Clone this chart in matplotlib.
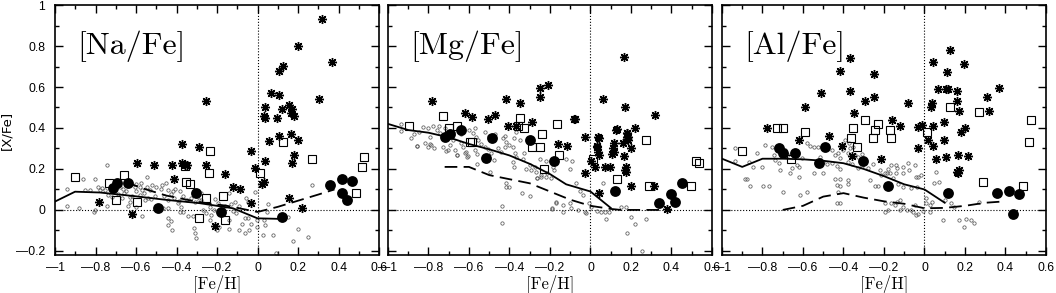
"""
[Na/Fe], [Mg/Fe], [Al/Fe] versus [Fe/H] - three panel abundance plot.
"""

import matplotlib
matplotlib.use("Agg")
import matplotlib.pyplot as plt

# ---------------------------------------------------------------- data
# [Na/Fe] panel
na_small_x = [-0.943, -0.943, -0.86, -0.803, -0.882, -0.745, -0.787, -0.77, -0.754, -0.803,
              -0.745, -0.737, -0.72, -0.68, -0.663, -0.647, -0.63, -0.63, -0.639, -0.606,
              -0.581, -0.57, -0.548, -0.532, -0.548, -0.598, -0.57, -0.614, -0.557, -0.524,
              -0.507, -0.478, -0.442, -0.425, -0.417, -0.466, -0.442, -0.442, -0.425, -0.442,
              -0.422, -0.392, -0.376, -0.368, -0.384, -0.406, -0.384, -0.343, -0.319, -0.314,
              -0.31, -0.302, -0.278, -0.278, -0.269, -0.253, -0.236, -0.215, -0.228, -0.236,
              -0.209, -0.195, -0.179, -0.192, -0.199, -0.852, -0.828, -0.778, -0.808, -0.69,
              -0.67, -0.66, -0.62, -0.6, -0.58, -0.56, -0.54, -0.6, -0.575, -0.52,
              -0.5, -0.46, -0.44, -0.41, -0.39, -0.37, -0.35, -0.33, -0.31, -0.29,
              -0.47, -0.45, -0.143, -0.11, -0.105, -0.056, -0.048, -0.061, -0.048, -0.077,
              -0.034, -0.064, -0.04, -0.093, -0.143, -0.143, -0.012, -0.002, -0.002, 0.051,
              0.048, 0.031, 0.037, 0.028, 0.075, 0.149, 0.198, 0.177, 0.248, 0.267,
              0.092, -0.16, -0.13, -0.12, -0.09]
na_small_y = [0.101, 0.019, 0.151, 0.151, 0.008, 0.22, 0.111, 0.106, 0.098, 0.0,
              0.019, 0.073, 0.065, 0.114, 0.101, 0.094, 0.065, 0.041, 0.019, 0.114,
              0.111, 0.098, 0.111, 0.098, 0.159, 0.016, -0.029, -0.024, 0.049, 0.052,
              0.068, 0.101, 0.098, 0.078, 0.09, 0.008, 0.008, -0.04, -0.052, -0.073,
              -0.1, 0.033, 0.013, -0.008, -0.008, 0.101, 0.09, -0.029, -0.032, -0.089,
              -0.113, -0.138, 0.081, 0.049, 0.0, -0.016, 0.016, 0.0, -0.024, -0.049,
              0.052, 0.036, 0.0, -0.081, -0.1, 0.098, 0.098, 0.098, -0.01, 0.08,
              0.06, 0.085, 0.07, 0.09, 0.075, 0.085, 0.06, 0.125, 0.13, 0.12,
              0.11, 0.07, 0.05, 0.06, 0.045, 0.07, 0.05, 0.06, 0.04, 0.05,
              0.12, 0.13, 0.081, 0.041, -0.016, 0.057, 0.041, -0.041, -0.041, -0.068,
              -0.068, -0.113, -0.097, -0.097, -0.091, -0.049, 0.089, -0.081, -0.049, 0.029,
              -0.008, -0.049, -0.073, -0.122, -0.122, -0.036, -0.093, -0.15, -0.134, 0.122,
              -0.211, 0.02, 0.03, -0.005, 0.02]
na_sq_x = [-0.901, -0.734, -0.66, -0.701, -0.593, -0.355, -0.333, -0.356, -0.236, -0.241,
           -0.253, -0.171, -0.291, -0.159, 0.01, 0.128, 0.267, 0.486, 0.527, 0.516]
na_sq_y = [0.159, 0.13, 0.169, 0.049, 0.039, 0.138, 0.128, 0.215, 0.289, 0.179,
           0.057, 0.068, -0.041, -0.049, 0.179, 0.33, 0.249, 0.081, 0.26, 0.211]
na_star_x = [0.319, 0.199, 0.368, 0.128, 0.108, -0.253, 0.067, 0.108, 0.305, 0.038,
             0.031, 0.038, 0.097, 0.12, 0.158, 0.169, 0.163, 0.179, 0.059, 0.108,
             0.167, 0.199, -0.371, -0.291, -0.031, 0.179, 0.169, 0.038, -0.01, -0.593,
             -0.512, -0.422, -0.373, -0.36, -0.348, -0.253, -0.161, -0.414, -0.122, -0.084,
             0.034, 0.021, -0.783, -0.622, -0.212, -0.031, 0.158, 0.218]
na_star_y = [0.932, 0.801, 0.72, 0.702, 0.68, 0.532, 0.572, 0.561, 0.541, 0.501,
             0.46, 0.45, 0.45, 0.491, 0.512, 0.491, 0.472, 0.46, 0.338, 0.361,
             0.371, 0.341, 0.322, 0.309, 0.289, 0.268, 0.231, 0.241, 0.203, 0.231,
             0.22, 0.22, 0.231, 0.22, 0.22, 0.22, 0.174, 0.151, 0.114, 0.101,
             0.138, 0.127, 0.041, -0.019, -0.078, 0.033, 0.06, 0.008]
na_dot_x = [-0.716, -0.695, -0.642, -0.489, -0.302, -0.182, 0.122, 0.358, 0.415, 0.465,
            0.415, 0.44]
na_dot_y = [0.109, 0.13, 0.13, 0.008, 0.081, -0.008, -0.033, 0.122, 0.151, 0.141,
            0.081, 0.049]
na_solid_x = [-1.0, -0.901, -0.778, -0.614, -0.45, -0.286, -0.121, 0.0, 0.121]
na_solid_y = [0.041, 0.089, 0.085, 0.068, 0.049, 0.033, 0.008, -0.041, -0.044]
na_dash_x = [-0.65, -0.55, -0.45, -0.3, -0.15, 0.0, 0.1, 0.2, 0.3, 0.38]
na_dash_y = [0.135, 0.1, 0.07, 0.04, 0.02, -0.01, 0.015, 0.045, 0.075, 0.1]

# [Mg/Fe] panel
mg_small_x = [-0.938, -0.938, -0.888, -0.855, -0.872, -0.849, -0.827, -0.803, -0.778, -0.794,
              -0.786, -0.773, -0.76, -0.745, -0.729, -0.696, -0.712, -0.679, -0.671, -0.658,
              -0.641, -0.63, -0.613, -0.609, -0.581, -0.564, -0.556, -0.539, -0.572, -0.559,
              -0.523, -0.507, -0.49, -0.477, -0.457, -0.441, -0.421, -0.403, -0.383, -0.433,
              -0.416, -0.375, -0.367, -0.383, -0.378, -0.498, -0.436, -0.436, -0.416, -0.416,
              -0.4, -0.334, -0.326, -0.301, -0.317, -0.293, -0.337, -0.298, -0.276, -0.268,
              -0.263, -0.243, -0.219, -0.194, -0.178, -0.186, -0.189, -0.169, -0.816, -0.803,
              -0.859, -0.793, -0.703, -0.66, -0.62, -0.604, -0.562, -0.266, -0.242, -0.217,
              -0.191, -0.168, -0.135, -0.135, -0.102, -0.094, -0.069, -0.053, -0.036, -0.061,
              -0.028, -0.02, -0.007, 0.005, 0.03, 0.05, 0.071, 0.092, 0.079, 0.063,
              0.153, 0.177, 0.202, 0.218, 0.272, 0.18, 0.254, -0.75, -0.72, -0.68,
              -0.64, -0.6, -0.57, -0.52, -0.5, -0.47, -0.42, -0.38, -0.37, -0.35,
              -0.12, -0.1, -0.09, -0.25, -0.22]
mg_small_y = [0.42, 0.387, 0.35, 0.312, 0.371, 0.382, 0.406, 0.4, 0.41, 0.358,
              0.317, 0.301, 0.39, 0.375, 0.309, 0.317, 0.29, 0.341, 0.293, 0.268,
              0.325, 0.306, 0.285, 0.26, 0.377, 0.358, 0.341, 0.322, 0.293, 0.273,
              0.306, 0.296, 0.28, 0.244, 0.301, 0.285, 0.309, 0.317, 0.306, 0.35,
              0.333, 0.277, 0.257, 0.236, 0.211, 0.187, 0.02, -0.062, 0.13, 0.11,
              0.11, 0.247, 0.276, 0.22, 0.2, 0.195, 0.081, 0.068, 0.211, 0.187,
              0.154, 0.171, 0.163, 0.154, 0.195, 0.208, 0.008, 0.036, 0.328, 0.306,
              0.314, 0.32, 0.293, 0.268, 0.276, 0.263, 0.224, 0.154, 0.163, 0.179,
              0.004, 0.037, 0.022, -0.009, 0.035, 0.008, 0.132, 0.091, 0.075, 0.0,
              -0.008, -0.016, 0.033, 0.016, -0.004, -0.008, -0.008, -0.008, -0.044, 0.132,
              0.016, 0.016, -0.033, -0.07, -0.044, -0.114, -0.2, 0.41, 0.4, 0.38,
              0.37, 0.39, 0.4, 0.38, 0.36, 0.37, 0.36, 0.35, 0.38, 0.34,
              0.25, 0.2, 0.24, 0.25, 0.24]
mg_sq_x = [-0.898, -0.729, -0.699, -0.658, -0.586, -0.595, -0.347, -0.359, -0.329, -0.238,
           -0.289, -0.248, -0.166, -0.227, -0.156, 0.013, 0.273, 0.133, 0.289, 0.523,
           0.534, 0.495]
mg_sq_y = [0.411, 0.46, 0.402, 0.411, 0.332, 0.333, 0.45, 0.411, 0.4, 0.371,
           0.309, 0.309, 0.42, 0.2, 0.268, 0.249, 0.341, 0.149, 0.119, 0.24,
           0.229, 0.119]
mg_star_x = [-0.781, -0.62, -0.587, -0.508, -0.469, -0.419, -0.349, -0.406, -0.37, -0.288,
             -0.25, -0.25, -0.209, -0.077, -0.16, -0.118, -0.028, 0.038, 0.03, 0.062,
             0.164, 0.173, 0.128, 0.178, 0.186, 0.186, 0.222, 0.321, 0.117, 0.161,
             0.202, -0.081, 0.133, 0.182, 0.182, 0.182, 0.042, 0.03, 0.037, 0.042,
             0.11, 0.115, 0.105, 0.164, 0.021, 0.071, 0.095, 0.174, 0.169, 0.174,
             0.002, -0.028, 0.202, 0.312, 0.042, 0.38]
mg_star_y = [0.533, 0.472, 0.452, 0.444, 0.463, 0.541, 0.52, 0.41, 0.41, 0.431,
             0.593, 0.553, 0.61, 0.444, 0.322, 0.312, 0.354, 0.354, 0.314, 0.541,
             0.745, 0.501, 0.39, 0.374, 0.358, 0.341, 0.402, 0.463, 0.325, 0.325,
             0.3, 0.442, 0.394, 0.374, 0.358, 0.345, 0.35, 0.309, 0.284, 0.268,
             0.3, 0.285, 0.275, 0.263, 0.208, 0.208, 0.208, 0.211, 0.195, 0.184,
             0.241, 0.179, 0.119, 0.119, 0.081, 0.003]
mg_dot_x = [-0.717, -0.696, -0.638, -0.487, -0.518, -0.298, -0.178, 0.123, 0.339, 0.398,
            0.418, 0.451]
mg_dot_y = [0.358, 0.371, 0.39, 0.35, 0.252, 0.341, 0.241, 0.091, 0.032, 0.078,
            0.041, 0.13]
mg_solid_x = [-1.0, -0.9, -0.8, -0.7, -0.6, -0.5, -0.4, -0.3, -0.2, -0.12, 0.0, 0.1]
mg_solid_y = [0.42, 0.39, 0.377, 0.354, 0.322, 0.296, 0.266, 0.225, 0.175, 0.125, 0.09, 0.01]
mg_dash_x = [-0.72, -0.6, -0.5, -0.4, -0.3, -0.2, -0.1, 0.0, 0.1, 0.15, 0.4]
mg_dash_y = [0.21, 0.21, 0.17, 0.15, 0.13, 0.09, 0.05, 0.02, 0.005, 0.0, 0.0]

# [Al/Fe] panel
al_small_x = [-0.938, -0.938, -0.888, -0.877, -0.86, -0.869, -0.849, -0.828, -0.803, -0.795,
              -0.787, -0.77, -0.754, -0.745, -0.737, -0.72, -0.713, -0.7, -0.688, -0.672,
              -0.655, -0.663, -0.63, -0.619, -0.622, -0.606, -0.614, -0.581, -0.581, -0.565,
              -0.548, -0.524, -0.548, -0.516, -0.5, -0.483, -0.5, -0.458, -0.442, -0.425,
              -0.417, -0.458, -0.433, -0.417, -0.442, -0.417, -0.433, -0.417, -0.429, -0.401,
              -0.379, -0.368, -0.379, -0.36, -0.343, -0.327, -0.31, -0.327, -0.31, -0.379,
              -0.376, -0.278, -0.269, -0.253, -0.245, -0.228, -0.22, -0.195, -0.179, -0.433,
              -0.417, -0.195, -0.213, -0.187, -0.163, -0.138, -0.105, -0.082, -0.046, -0.032,
              -0.016, 0.057, 0.074, -0.163, -0.138, -0.105, -0.087, -0.057, -0.045, -0.032,
              -0.008, 0.008, 0.025, 0.038, 0.09, 0.099, 0.172, 0.197, 0.205, 0.23,
              0.246, 0.271, -0.14, -0.172, -0.14, -0.107, -0.156, -0.131, -0.107, -0.074,
              -0.041, -0.036, -0.066, -0.123, -0.148, -0.123, -0.066, -0.041, 0.008, 0.025,
              -0.181, -0.197, 0.049, 0.131, 0.148, -0.392, -0.371, -0.351]
al_small_y = [0.301, 0.24, 0.149, 0.149, 0.118, 0.236, 0.211, 0.276, 0.208, 0.118,
              0.317, 0.118, 0.309, 0.268, 0.244, 0.227, 0.195, 0.089, 0.292, 0.268,
              0.203, 0.179, 0.219, 0.208, 0.162, 0.252, 0.073, 0.089, 0.325, 0.312,
              0.305, 0.309, 0.179, 0.257, 0.235, 0.224, 0.179, 0.292, 0.268, 0.276,
              0.252, 0.23, 0.214, 0.198, 0.149, 0.149, 0.122, 0.118, 0.089, 0.292,
              0.279, 0.3, 0.236, 0.224, 0.268, 0.257, 0.271, 0.203, 0.214, 0.146,
              0.127, 0.203, 0.146, 0.224, 0.118, 0.118, 0.195, 0.179, 0.198, 0.035,
              0.035, -0.012, 0.171, 0.179, 0.22, 0.203, 0.211, 0.228, 0.22, 0.163,
              0.171, 0.187, 0.138, 0.033, 0.041, 0.013, 0.0, -0.008, 0.024, -0.02,
              -0.003, 0.057, 0.024, 0.041, -0.049, 0.049, -0.049, -0.085, -0.046, -0.049,
              -0.062, 0.039, 0.22, 0.179, 0.182, 0.179, 0.154, 0.127, 0.114, 0.195,
              0.163, 0.114, 0.106, 0.049, 0.024, 0.0, 0.0, -0.024, 0.033, -0.008,
              0.0, 0.033, 0.132, 0.033, 0.012, 0.341, 0.328, 0.309]
al_sq_x = [-0.903, -0.73, -0.701, -0.588, -0.66, -0.353, -0.361, -0.333, -0.292, -0.23,
           -0.243, -0.254, -0.172, -0.163, 0.012, 0.127, 0.268, 0.527, 0.517, 0.288,
           0.488]
al_sq_y = [0.289, 0.4, 0.4, 0.38, 0.249, 0.4, 0.351, 0.307, 0.44, 0.418,
           0.39, 0.351, 0.39, 0.351, 0.38, 0.5, 0.479, 0.441, 0.33, 0.138,
           0.119]
al_star_x = [-0.369, -0.419, -0.251, -0.509, -0.369, -0.588, -0.292, -0.251, -0.35, -0.082,
             -0.16, -0.123, -0.032, -0.011, 0.03, 0.037, 0.041, 0.098, 0.127, 0.041,
             0.197, 0.111, 0.066, 0.107, 0.115, 0.161, 0.16, 0.172, 0.307, 0.369,
             0.32, 0.2, 0.18, 0.098, 0.016, 0.041, -0.032, -0.78, -0.62, -0.471,
             -0.406, -0.36, -0.213, 0.057, 0.107, 0.167, 0.217, 0.16, 0.164, 0.172]
al_star_y = [0.743, 0.68, 0.662, 0.572, 0.582, 0.504, 0.533, 0.553, 0.472, 0.52,
             0.441, 0.409, 0.403, 0.415, 0.504, 0.52, 0.409, 0.431, 0.781, 0.724,
             0.712, 0.672, 0.59, 0.59, 0.59, 0.58, 0.533, 0.484, 0.553, 0.594,
             0.484, 0.4, 0.38, 0.343, 0.343, 0.311, 0.3, 0.4, 0.341, 0.36,
             0.311, 0.263, 0.249, 0.249, 0.26, 0.268, 0.263, 0.187, 0.179, 0.195]
al_dot_x = [-0.719, -0.698, -0.641, -0.521, -0.491, -0.304, -0.181, 0.118, 0.358, 0.419,
            0.468, 0.435]
al_dot_y = [0.301, 0.28, 0.28, 0.228, 0.309, 0.24, 0.119, 0.081, 0.081, 0.094,
            0.078, -0.02]
al_solid_x = [-1.0, -0.9, -0.8, -0.7, -0.6, -0.5, -0.4, -0.3, -0.2, -0.1, 0.0, 0.1]
al_solid_y = [0.25, 0.21, 0.25, 0.25, 0.247, 0.24, 0.228, 0.2, 0.165, 0.125, 0.1, 0.035]
al_dash_x = [-0.7, -0.6, -0.5, -0.4, -0.3, -0.2, -0.1, 0.0, 0.1, 0.2, 0.3, 0.4]
al_dash_y = [0.0, 0.02, 0.065, 0.082, 0.06, 0.042, 0.03, 0.008, 0.01, 0.02, 0.035, 0.042]

panel_titles = ["[Na/Fe]", "[Mg/Fe]", "[Al/Fe]"]
MINUS = "\u2014"  # the reference draws a long minus sign
x_ticks = [-1.0, -0.8, -0.6, -0.4, -0.2, 0.0, 0.2, 0.4, 0.6]
x_tick_labels = [MINUS + "1", MINUS + "0.8", MINUS + "0.6", MINUS + "0.4", MINUS + "0.2",
                 "0", "0.2", "0.4", "0.6"]
y_ticks = [-0.2, 0.0, 0.2, 0.4, 0.6, 0.8, 1.0]
y_tick_labels = [MINUS + "0.2", "0", "0.2", "0.4", "0.6", "0.8", "1"]

panels = [
    (na_small_x, na_small_y, na_sq_x, na_sq_y, na_star_x, na_star_y, na_dot_x, na_dot_y,
     na_solid_x, na_solid_y, na_dash_x, na_dash_y),
    (mg_small_x, mg_small_y, mg_sq_x, mg_sq_y, mg_star_x, mg_star_y, mg_dot_x, mg_dot_y,
     mg_solid_x, mg_solid_y, mg_dash_x, mg_dash_y),
    (al_small_x, al_small_y, al_sq_x, al_sq_y, al_star_x, al_star_y, al_dot_x, al_dot_y,
     al_solid_x, al_solid_y, al_dash_x, al_dash_y),
]

SANS = "Liberation Sans"
SERIF = "cmr10"
TICK_FS = 8.8

fig = plt.figure(figsize=(10.56, 2.93), dpi=100)
lefts = [0.0521, 0.3674, 0.6837]

for i, (sx, sy, qx, qy, ax_, ay_, dx, dy, lx, ly, hx, hy) in enumerate(panels):
    ax = fig.add_axes([lefts[i], 0.1297, 0.3068, 0.853])

    ax.axvline(0, color="black", linestyle=":", linewidth=0.8, zorder=1)
    ax.axhline(0, color="black", linestyle=":", linewidth=0.8, zorder=1)

    ax.plot(sx, sy, "o", ms=2.4, mfc="none", mec="0.35", mew=0.55, zorder=2)
    ax.plot(lx, ly, "-", color="black", lw=1.3, zorder=3)
    ax.plot(hx, hy, "-", color="black", lw=1.3, dashes=(7, 3.5), zorder=3)
    ax.plot(qx, qy, "s", ms=5.4, mfc="none", mec="black", mew=0.8, zorder=4)
    ax.plot(ax_, ay_, marker=(8, 2, 0), ls="none", ms=6.5, mec="black", mew=1.0, zorder=5)
    ax.plot(dx, dy, "o", ms=7.8, mfc="black", mec="black", mew=0, zorder=6)

    ax.set_xlim(-1.0, 0.6)
    ax.set_ylim(-0.22, 1.0)
    ax.set_xticks(x_ticks)
    ax.set_xticklabels(x_tick_labels, fontfamily=SANS, fontsize=TICK_FS)
    ax.set_xticks([-0.9, -0.7, -0.5, -0.3, -0.1, 0.1, 0.3, 0.5], minor=True)
    ax.set_yticks(y_ticks)
    ax.set_yticks([-0.1, 0.1, 0.3, 0.5, 0.7, 0.9], minor=True)
    if i == 0:
        ax.set_yticklabels(y_tick_labels, fontfamily=SANS, fontsize=TICK_FS)
        ax.set_ylabel("[X/Fe]", fontfamily="DejaVu Sans", fontsize=9.5, labelpad=2)
    else:
        ax.set_yticklabels([])
    ax.tick_params(which="both", direction="in", top=True, right=True, width=1.0)
    ax.tick_params(which="major", length=5.5, pad=5)
    ax.tick_params(which="minor", length=3.2)
    ax.tick_params(axis="y", which="major", pad=7)
    for spine in ax.spines.values():
        spine.set_linewidth(1.2)

    ax.set_xlabel("[Fe/H]", fontfamily=SERIF, fontsize=12, labelpad=0)
    ax.text(-0.89, 0.8, panel_titles[i], fontfamily=SERIF, fontsize=23,
            ha="left", va="center")

fig.savefig("out.png", dpi=100)
plt.close(fig)
